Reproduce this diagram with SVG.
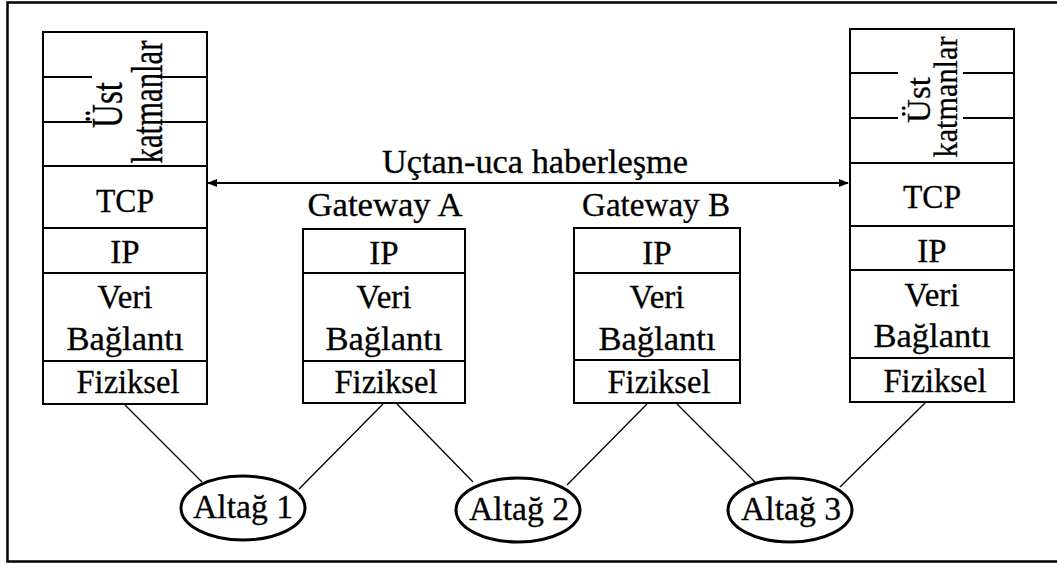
<svg xmlns="http://www.w3.org/2000/svg" width="1057" height="565" viewBox="0 0 1057 565">
  <style>
    .box { fill: #fff; stroke: #000; stroke-width: 2; }
    .div { stroke: #000; stroke-width: 2; fill: none; }
    .lbl { font-family: "Liberation Serif", "Times New Roman", serif; font-size: 33px; fill: #000; stroke: #000; stroke-width: 0.3; text-anchor: middle; }
    .link { stroke: #000; stroke-width: 1.3; fill: none; }
    .net { fill: #fff; stroke: #000; stroke-width: 3; }
  </style>
  <defs>
    <marker id="head" markerWidth="10" markerHeight="10" refX="9" refY="5" orient="auto-start-reverse" markerUnits="userSpaceOnUse">
      <path d="M0,1 L10,5 L0,9 Z" fill="#000"/>
    </marker>
  </defs>

  <rect width="1057" height="565" fill="#fff"/>
  <!-- frame (right side runs past the canvas edge) -->
  <path d="M1062 2.5 H7.5 V561.5 H1062" fill="none" stroke="#000" stroke-width="2.5"/>

  <!-- connectors -->
  <g id="connectors">
    <line class="link" x1="125" y1="405" x2="202" y2="482"/>
    <line class="link" x1="383" y1="404" x2="299" y2="489"/>
    <line class="link" x1="397" y1="404" x2="473" y2="482"/>
    <line class="link" x1="647" y1="404" x2="567" y2="485"/>
    <line class="link" x1="677" y1="404" x2="755" y2="482"/>
    <line class="link" x1="925" y1="403" x2="840" y2="487"/>
    <line x1="208" y1="183" x2="848" y2="183" stroke="#000" stroke-width="2" marker-start="url(#head)" marker-end="url(#head)"/>
    <text class="lbl" x="535" y="173" textLength="306" lengthAdjust="spacingAndGlyphs">Uçtan-uca haberleşme</text>
  </g>

  <!-- host on the left -->
  <g id="host-left">
    <rect class="box" x="43" y="32" width="164" height="372"/>
    <path class="div" d="M43 77 H92 M157 77 H207 M43 122 H92 M157 122 H207 M43 166 H207 M43 228 H207 M43 273 H207 M43 361 H207"/>
    <text class="lbl" transform="translate(122 105) rotate(-90) scale(1 1.35)">Üst</text>
    <text class="lbl" transform="translate(162 102) rotate(-90) scale(1 1.35)" textLength="123" lengthAdjust="spacingAndGlyphs">katmanlar</text>
    <text class="lbl" x="125" y="212" textLength="58" lengthAdjust="spacingAndGlyphs">TCP</text>
    <text class="lbl" x="125" y="263">IP</text>
    <text class="lbl" x="125" y="308" textLength="55" lengthAdjust="spacingAndGlyphs">Veri</text>
    <text class="lbl" x="125" y="350" textLength="117" lengthAdjust="spacingAndGlyphs">Bağlantı</text>
    <text class="lbl" x="128" y="393" textLength="103" lengthAdjust="spacingAndGlyphs">Fiziksel</text>
  </g>

  <!-- Gateway A -->
  <g id="gateway-a">
    <text class="lbl" x="385" y="216" textLength="155" lengthAdjust="spacingAndGlyphs">Gateway A</text>
    <rect class="box" x="303" y="229" width="162" height="174"/>
    <path class="div" d="M303 273 H465 M303 361 H465"/>
    <text class="lbl" x="384" y="264">IP</text>
    <text class="lbl" x="384" y="308" textLength="55" lengthAdjust="spacingAndGlyphs">Veri</text>
    <text class="lbl" x="384" y="350" textLength="117" lengthAdjust="spacingAndGlyphs">Bağlantı</text>
    <text class="lbl" x="386" y="393" textLength="103" lengthAdjust="spacingAndGlyphs">Fiziksel</text>
  </g>

  <!-- Gateway B -->
  <g id="gateway-b">
    <text class="lbl" x="656" y="216" textLength="148" lengthAdjust="spacingAndGlyphs">Gateway B</text>
    <rect class="box" x="574" y="228" width="166" height="175"/>
    <path class="div" d="M574 273 H740 M574 360 H740"/>
    <text class="lbl" x="657" y="264">IP</text>
    <text class="lbl" x="657" y="308" textLength="55" lengthAdjust="spacingAndGlyphs">Veri</text>
    <text class="lbl" x="657" y="350" textLength="117" lengthAdjust="spacingAndGlyphs">Bağlantı</text>
    <text class="lbl" x="659" y="393" textLength="103" lengthAdjust="spacingAndGlyphs">Fiziksel</text>
  </g>

  <!-- host on the right -->
  <g id="host-right">
    <rect class="box" x="850" y="29" width="164" height="373"/>
    <path class="div" d="M850 73 H898 M963 73 H1014 M850 118 H898 M963 118 H1014 M850 163 H1014 M850 226 H1014 M850 270 H1014 M850 358 H1014"/>
    <text class="lbl" transform="translate(930 100) rotate(-90)">Üst</text>
    <text class="lbl" transform="translate(957 97) rotate(-90)" textLength="121" lengthAdjust="spacingAndGlyphs">katmanlar</text>
    <text class="lbl" x="932" y="208" textLength="58" lengthAdjust="spacingAndGlyphs">TCP</text>
    <text class="lbl" x="932" y="262">IP</text>
    <text class="lbl" x="932" y="306" textLength="55" lengthAdjust="spacingAndGlyphs">Veri</text>
    <text class="lbl" x="932" y="347" textLength="117" lengthAdjust="spacingAndGlyphs">Bağlantı</text>
    <text class="lbl" x="935" y="392" textLength="103" lengthAdjust="spacingAndGlyphs">Fiziksel</text>
  </g>

  <!-- subnets -->
  <g id="subnet-1">
    <ellipse class="net" cx="243" cy="508" rx="62" ry="32"/>
    <text class="lbl" x="243" y="518" textLength="100" lengthAdjust="spacingAndGlyphs">Altağ 1</text>
  </g>
  <g id="subnet-2">
    <ellipse class="net" cx="518" cy="510" rx="62" ry="32"/>
    <text class="lbl" x="519" y="520" textLength="100" lengthAdjust="spacingAndGlyphs">Altağ 2</text>
  </g>
  <g id="subnet-3">
    <ellipse class="net" cx="790" cy="510" rx="62" ry="32"/>
    <text class="lbl" x="791" y="520" textLength="100" lengthAdjust="spacingAndGlyphs">Altağ 3</text>
  </g>
</svg>
